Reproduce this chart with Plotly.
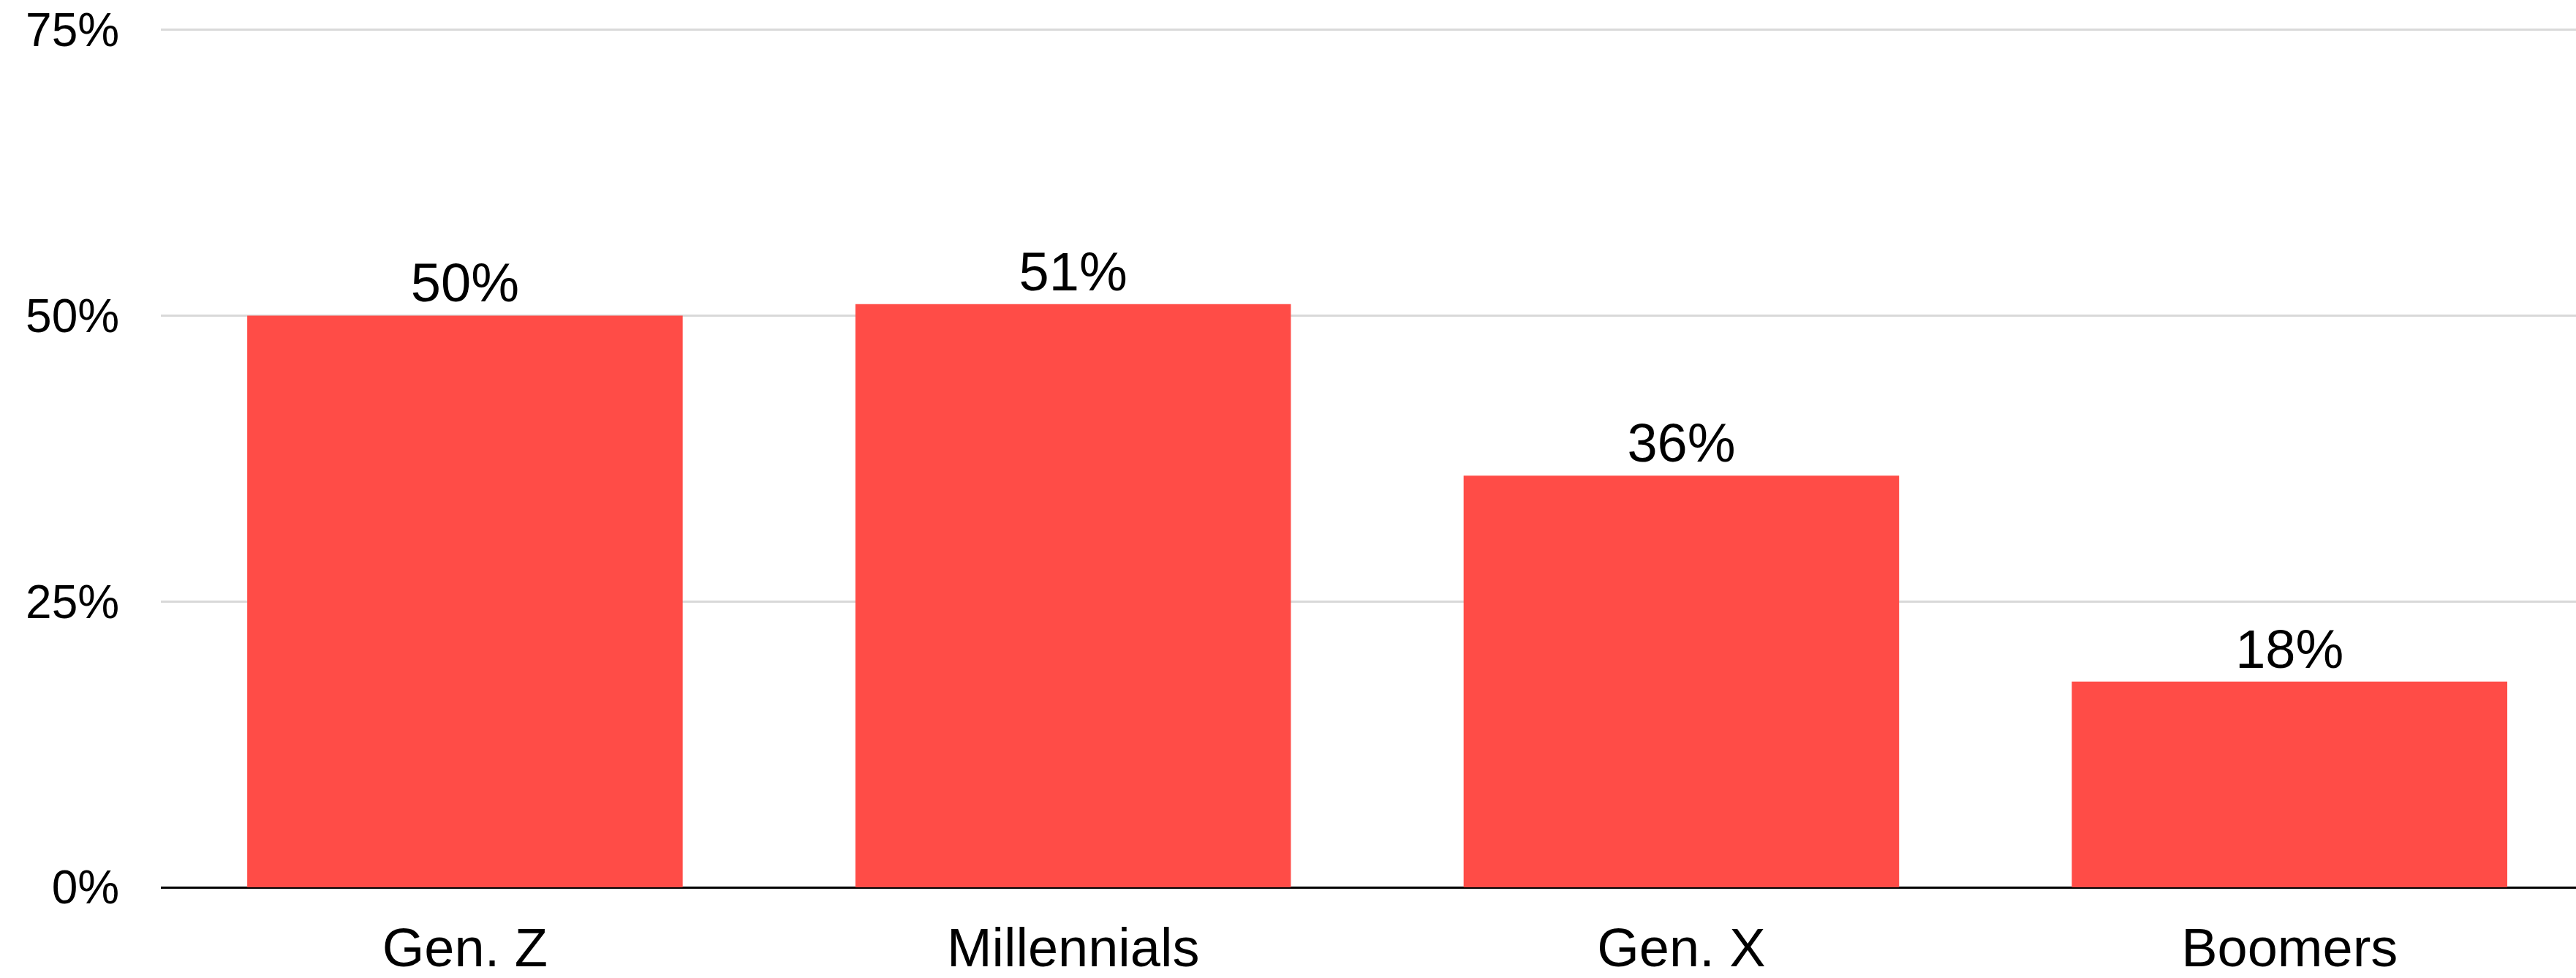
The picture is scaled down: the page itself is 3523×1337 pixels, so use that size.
import plotly.graph_objects as go

categories = ["Gen. Z", "Millennials", "Gen. X", "Boomers"]
values = [50, 51, 36, 18]
labels = ["50%", "51%", "36%", "18%"]
y_tick_vals = [0, 25, 50, 75]
y_tick_text = ["0%", "25%", "50%", "75%"]

FONT = "Liberation Sans, Arial, sans-serif"

fig = go.Figure(
    go.Bar(
        x=categories,
        y=values,
        text=labels,
        textposition="outside",
        textfont=dict(size=74, color="#000000", family=FONT),
        marker=dict(color="#ff4c47", line=dict(width=0)),
        cliponaxis=False,
    )
)

fig.update_layout(
    width=3523,
    height=1337,
    margin=dict(l=220, r=0, t=25, b=124, autoexpand=False),
    paper_bgcolor="white",
    plot_bgcolor="white",
    bargap=0.284,
    showlegend=False,
    font=dict(family=FONT, color="#000000"),
)

fig.update_xaxes(
    automargin=False,
    range=[-0.5, 3.471],
    showgrid=False,
    showline=False,
    tickfont=dict(size=74, family=FONT, color="#000000"),
    ticks="outside",
    ticklen=18,
    tickcolor="rgba(0,0,0,0)",
    zeroline=False,
)

fig.update_yaxes(
    automargin=False,
    range=[0, 76],
    tickvals=y_tick_vals,
    ticktext=y_tick_text,
    showgrid=True,
    gridcolor="#d9d9d9",
    gridwidth=3,
    zeroline=True,
    zerolinecolor="#000000",
    zerolinewidth=3,
    showline=False,
    ticks="outside",
    ticklen=43,
    tickcolor="rgba(0,0,0,0)",
    tickfont=dict(size=64, family=FONT, color="#000000"),
)

fig.write_html(
    "out.html",
    config={"displayModeBar": False},
    post_script="document.body.style.margin='0';document.body.style.overflow='hidden';",
)
